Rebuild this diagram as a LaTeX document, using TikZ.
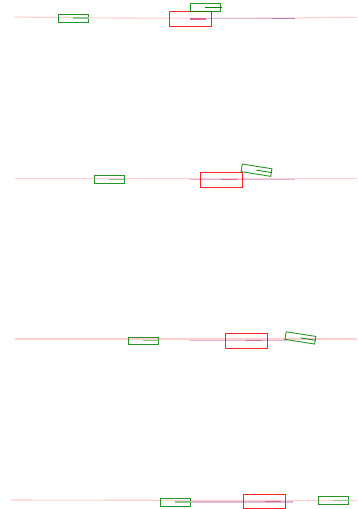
\documentclass[tikz,border=0pt]{standalone}
\begin{document}
\begin{tikzpicture}[x=1pt,y=-1pt,
  lane/.style={draw=pink!75!white,line width=1.1pt},
  path/.style={draw=violet!28!white,line width=1.3pt},
  pathend/.style={draw=violet!50!white,line width=1.3pt},
  ego/.style={draw=red,draw opacity=0.85,line width=1pt,minimum width=42pt,minimum height=14.6pt,inner sep=0pt},
  other/.style={draw=green!50!black,draw opacity=0.85,line width=0.9pt,minimum width=30pt,minimum height=7.7pt,inner sep=0pt},
  egohead/.style={draw=purple!60!white,line width=1.3pt},
  head/.style={draw=green!50!black!45!white,line width=1.3pt},
  headdark/.style={draw=green!50!black,line width=0.8pt}]
\useasboundingbox (0,0) rectangle (357,509);

% frame 1
\draw[lane] (15,17) .. controls (120,18.5) and (250,18.5) .. (357,17.3);
\draw[path] (190,18.3) -- (272,18.3);
\draw[pathend] (272,18.3) -- (295,18.3);
\node[ego] (e1) at (190,19) {};
\node[other] (a1) at (73.3,18.1) {};
\node[other] (b1) at (205.3,7.1) {};
\coordinate (e1h) at ([xshift=16pt]e1.center);
\draw[egohead] (e1.center) -- (e1h);
\draw[head] (a1.center) -- (a1.east);
\draw[headdark] (b1.center) -- ([xshift=1.5pt]b1.east);

% frame 2
\draw[lane] (15,178.3) -- (357,178.3);
\draw[path] (190,179.3) -- (295,179.3);
\node[ego] (e2) at (221.1,179.8) {};
\node[other] (a2) at (109,179.5) {};
\node[other,rotate=-9] (b2) at (256.5,170.2) {};
\coordinate (e2h) at ([xshift=16pt]e2.center);
\draw[egohead] (e2.center) -- (e2h);
\draw[head] (a2.center) -- (a2.east);
\draw[headdark] (b2.center) -- (b2.east);

% frame 3
\draw[lane] (15,339) -- (357,339);
\draw[path] (190,340.7) -- (287,340.7);
\node[ego] (e3) at (246.3,340.8) {};
\node[other] (a3) at (143.1,340.8) {};
\node[other,rotate=-9] (b3) at (300.4,337.9) {};
\coordinate (e3h) at ([xshift=16pt]e3.center);
\draw[egohead] (e3.center) -- (e3h);
\draw[head] (a3.center) -- (a3.east);
\draw[headdark] (b3.center) -- (b3.east);

% frame 4
\draw[lane] (11,500) -- (357,500.7);
\draw[path] (175,502) -- (293,502);
\node[ego] (e4) at (264.8,501.6) {};
\node[other] (a4) at (175.3,502.1) {};
\node[other] (b4) at (333.1,500.5) {};
\coordinate (e4h) at ([xshift=16pt]e4.center);
\draw[egohead] (e4.center) -- (e4h);
\draw[head] (a4.center) -- (a4.east);
\draw[head] (b4.center) -- (b4.east);
\end{tikzpicture}
\end{document}
